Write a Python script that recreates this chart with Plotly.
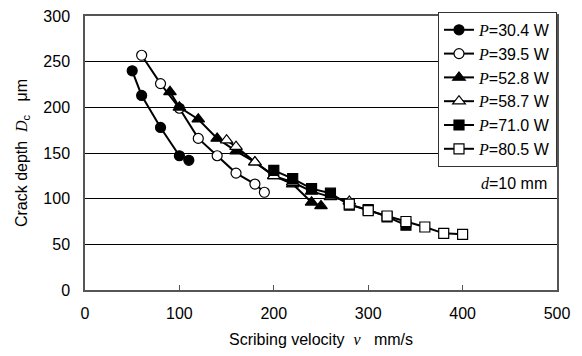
import plotly.graph_objects as go

v_304 = [50, 60, 80, 100, 110]
d_304 = [240, 213, 178, 147, 142]
v_395 = [60, 80, 100, 120, 140, 160, 180, 190]
d_395 = [257, 226, 199, 166, 147, 128, 116, 107]
v_528 = [90, 100, 120, 140, 160, 180, 200, 220, 240, 250]
d_528 = [217, 200, 187, 166, 152, 140, 125, 116, 96, 92]
v_587 = [150, 160, 180, 200, 220, 240, 260, 280]
d_587 = [164, 157, 140, 125, 118, 108, 102, 97]
v_710 = [200, 220, 240, 260, 280, 300, 320, 340]
d_710 = [131, 122, 111, 106, 93, 88, 80, 71]
v_805 = [280, 300, 320, 340, 360, 380, 400]
d_805 = [94, 87, 81, 75, 69, 62, 61]

labels = ["30.4", "39.5", "52.8", "58.7", "71.0", "80.5"]
series = [(v_304, d_304), (v_395, d_395), (v_528, d_528),
          (v_587, d_587), (v_710, d_710), (v_805, d_805)]
symbols = ["circle", "circle", "triangle-up", "triangle-up", "square", "square"]
fills = ["black", "white", "black", "white", "black", "white"]
sizes = [10, 10, 11, 11, 10, 10]

SERIF = "Liberation Serif, Times New Roman, serif"
SANS = "Liberation Sans, Arial, sans-serif"
fig = go.Figure()
for i, ((xs, ys), lab, sym, fc, sz) in enumerate(zip(series, labels, symbols, fills, sizes)):
    fig.add_trace(go.Scatter(
        x=xs, y=ys, mode="lines+markers",
        name=f"<span style='font-family:{SERIF};font-style:italic'>P</span>=" + lab + " W",
        line=dict(color="black", width=2),
        marker=dict(symbol=sym, size=sz, color=fc, line=dict(color="black", width=1.2)),
    ))

fig.add_annotation(
    x=492, y=117, xref="x", yref="y", xanchor="right", yanchor="middle",
    text=f"<span style='font-family:{SERIF};font-style:italic'>d</span>=10 mm",
    showarrow=False, font=dict(size=16, color="black", family=SANS),
)

fig.update_layout(
    width=582, height=356,
    margin=dict(l=85, r=25, t=16, b=66),
    paper_bgcolor="white", plot_bgcolor="white",
    font=dict(family=SANS, size=16, color="black"),
    showlegend=True,
    legend=dict(
        x=1, y=1.015, xanchor="right", yanchor="top",
        bordercolor="#333", borderwidth=1, bgcolor="white",
        font=dict(size=16, family=SANS), itemwidth=30, tracegroupgap=0,
    ),
    xaxis=dict(
        range=[0, 500], dtick=100, showgrid=False, zeroline=False, automargin=False,
        showline=True, linecolor="#555", linewidth=1.5, mirror=True,
        ticks="inside", ticklen=5, tickcolor="#555", ticklabelstandoff=8,
        title=dict(text=f"Scribing velocity  <span style='font-family:{SERIF};font-style:italic'>v</span>   mm/s",
                   font=dict(size=16), standoff=13),
        tickfont=dict(size=16),
    ),
    yaxis=dict(
        range=[0, 300], dtick=50, showgrid=True, gridcolor="black", gridwidth=1,
        zeroline=False, automargin=False, showline=True, linecolor="#555", linewidth=1.5, mirror=True,
        ticks="", ticklabelstandoff=10,
        title=dict(text=f"Crack depth  <span style='font-family:{SERIF};font-style:italic'>D</span><sub>c</sub>   μm",
                   font=dict(size=16), standoff=12),
        tickfont=dict(size=16),
    ),
)

fig.write_html("out.html")
